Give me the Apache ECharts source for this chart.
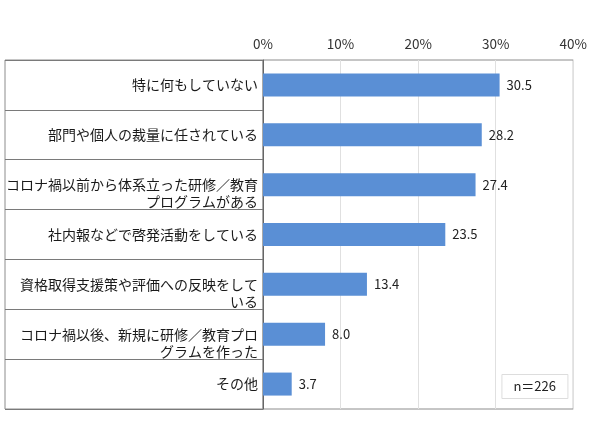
<!DOCTYPE html>
<html>
<head>
<meta charset="utf-8">
<script src="https://cdn.jsdelivr.net/npm/echarts@6/dist/echarts.min.js"></script>
<style>
  html, body { margin: 0; padding: 0; background: #fff; }
  #chart { width: 590px; height: 423px; }
</style>
</head>
<body>
<div id="chart"></div>
<script>
// 項目（上から順）
const categories = [
  '特に何もしていない',
  '部門や個人の裁量に任されている',
  'コロナ禍以前から体系立った研修／教育\nプログラムがある',
  '社内報などで啓発活動をしている',
  '資格取得支援策や評価への反映をして\nいる',
  'コロナ禍以後、新規に研修／教育プロ\nグラムを作った',
  'その他'
];
const values = [30.5, 28.2, 27.4, 23.5, 13.4, 8.0, 3.7];
const xTicks = [0, 10, 20, 30, 40];
const sampleNote = 'n＝226';

const font = '"Noto Sans CJK JP", "Noto Sans", sans-serif';

const chart = echarts.init(document.getElementById('chart'));

const option = {
  animation: false,
  backgroundColor: '#fff',
  title: {
    text: sampleNote,
    right: 22,
    bottom: 24,
    padding: [6, 12, 6, 12],
    borderColor: '#dddddd',
    borderWidth: 1,
    textStyle: { fontSize: 13, fontWeight: 'normal', color: '#222', fontFamily: font }
  },
  grid: [
    { left: 263, right: 14, top: 60, bottom: 14, show: true, borderColor: '#8c8c8c', borderWidth: 1 },
    { left: 5, width: 258, top: 60, bottom: 14, show: true, borderColor: '#8c8c8c', borderWidth: 1 }
  ],
  xAxis: [
    {
      gridIndex: 0,
      type: 'value',
      position: 'top',
      min: xTicks[0],
      max: xTicks[xTicks.length - 1],
      interval: 10,
      axisLine: { show: false },
      axisTick: { show: false },
      axisLabel: {
        formatter: '{value}%',
        margin: 9,
        fontSize: 13.5,
        color: '#333',
        fontFamily: font
      },
      splitLine: { lineStyle: { color: '#e0e0e0', width: 1 } }
    },
    {
      gridIndex: 1,
      type: 'value',
      show: false
    }
  ],
  yAxis: [
    {
      gridIndex: 0,
      type: 'category',
      data: categories,
      inverse: true,
      axisLine: { show: true, lineStyle: { color: '#666', width: 1 } },
      axisTick: { show: false },
      axisLabel: {
        margin: 5,
        fontSize: 14,
        lineHeight: 17,
        color: '#1a1a1a',
        fontFamily: font,
        // 2行ラベルは1行目が行の中央に来るように空行を先頭に足す
        formatter: v => v.includes('\n') ? '\u3000\n' + v : v
      }
    },
    {
      gridIndex: 1,
      type: 'category',
      data: categories,
      inverse: true,
      axisLine: { show: false },
      axisTick: { show: false },
      axisLabel: { show: false },
      splitLine: { show: true, lineStyle: { color: '#7a7a7a', width: 1 } }
    }
  ],
  series: [{
    type: 'bar',
    xAxisIndex: 0,
    yAxisIndex: 0,
    data: values,
    barWidth: 23,
    itemStyle: { color: '#5a8fd5' },
    label: {
      show: true,
      position: 'right',
      distance: 7,
      formatter: p => p.value.toFixed(1),
      fontSize: 13,
      color: '#222',
      fontFamily: font
    }
  }]
};

chart.setOption(option);
</script>
</body>
</html>
